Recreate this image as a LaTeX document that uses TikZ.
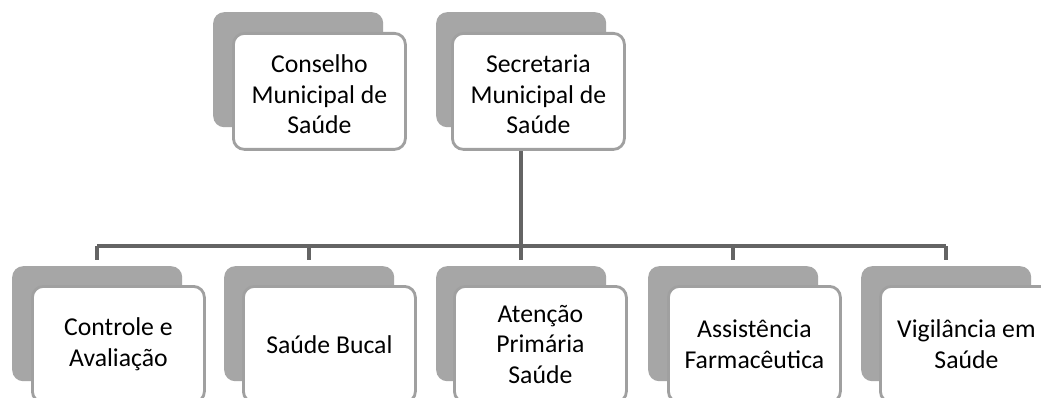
\documentclass[tikz,border=0pt]{standalone}
\usepackage{fontspec}
\setmainfont{Carlito}
\definecolor{backgrey}{RGB}{166,166,166}
\definecolor{framegrey}{RGB}{160,160,160}
\definecolor{linegrey}{RGB}{100,100,100}
\tikzset{
  backbox/.style={fill=backgrey, draw=none, rounded corners=11pt, minimum width=170pt, minimum height=115pt, anchor=north west, inner sep=0pt},
  frontbox/.style={fill=white, draw=framegrey, line width=2.8pt, rounded corners=11pt, minimum width=172pt, minimum height=116pt, anchor=north west, inner sep=0pt},
  boxtext/.style={align=center, font=\fontsize{25.7}{30.5}\selectfont, text=black, inner sep=0pt},
  conn/.style={draw=linegrey, line width=3.6pt}
}
\begin{document}
\begin{tikzpicture}[x=1pt,y=-1pt]
\useasboundingbox (0,0) rectangle (1041,398);
\fill[white] (0,0) rectangle (1041,398);
\clip (0,0) rectangle (1041,398);
% top row
\node[backbox] (conB) at (213,12) {};
\node[frontbox] (conF) at (232,32) {};
\node[boxtext] (conT) at ([yshift=-3pt]conF.center) {Conselho\\Municipal de\\Saúde};
\node[backbox] (secB) at (436,12) {};
\node[frontbox] (secF) at (451,32) {};
\node[boxtext] (secT) at ([yshift=-3pt]secF.center) {Secretaria\\Municipal de\\Saúde};
% bottom row
\node[backbox] (b1) at (12,266) {};
\node[frontbox] (f1) at (31,285) {};
\node[boxtext] (t1) at (f1.center) {Controle e\\Avaliação};
\node[backbox] (b2) at (224,266) {};
\node[frontbox] (f2) at (242,285) {};
\node[boxtext] (t2) at (f2.center) {Saúde Bucal};
\node[backbox] (b3) at (436,266) {};
\node[frontbox] (f3) at (453,285) {};
\node[boxtext] (t3) at (f3.center) {Atenção\\Primária\\Saúde};
\node[backbox] (b4) at (648,266) {};
\node[frontbox] (f4) at (667,285) {};
\node[boxtext] (t4) at (f4.center) {Assistência\\Farmacêutica};
\node[backbox] (b5) at (861,266) {};
\node[frontbox] (f5) at (879,285) {};
\node[boxtext] (t5) at (f5.center) {Vigilância em\\Saúde};
% connectors
\coordinate (bus) at (0,246);
\draw[conn] (secB.center |- secF.south) -- (secB.center |- bus);
\draw[conn] (b1.center |- bus) -- (b5.center |- bus);
\foreach \n in {b1,b2,b3,b4,b5}{
  \draw[conn] (\n.center |- bus) -- ([yshift=6pt]\n.north);
}
\end{tikzpicture}
\end{document}
